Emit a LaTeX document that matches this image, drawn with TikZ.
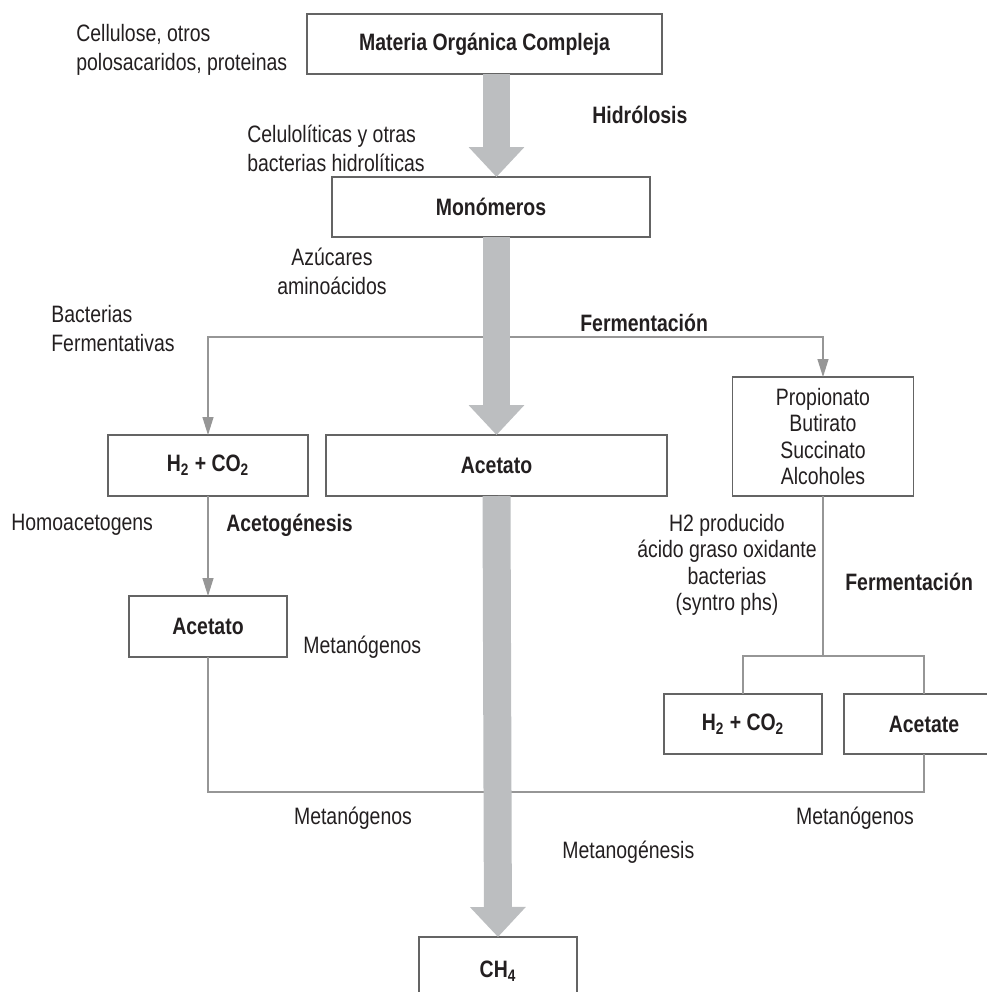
\documentclass[tikz,border=0pt]{standalone}
\usepackage{fontspec}
\setmainfont[FakeStretch=0.82]{Liberation Sans}
\usetikzlibrary{arrows.meta}
\definecolor{boxline}{RGB}{100,100,100}
\definecolor{thinline}{RGB}{150,150,150}
\definecolor{bigarrow}{RGB}{188,190,192}
\definecolor{txt}{RGB}{35,31,32}

\tikzset{
  caja/.style={draw=boxline, line width=0.8pt, text=txt, inner sep=0pt, outer sep=0pt,
    font=\bfseries\fontsize{13.5}{16.5}\selectfont},
  flecha/.style={draw=bigarrow, line width=0.56cm, -{Triangle[length=0.6cm,width=1.08cm]}},
  linea/.style={draw=thinline, line width=0.7pt},
  punta/.style={linea, -{Triangle[length=0.36cm,width=0.22cm]}},
  etiq/.style={text=txt, align=left, inner sep=0pt, font=\fontsize{13.5}{16.5}\selectfont},
}

\begin{document}
\begin{tikzpicture}[x=0.02cm, y=-0.02cm] % 1 unidad = 1 pixel
            \useasboundingbox (0,0) rectangle (987,992);

            % cajas
            \node[caja, minimum width=7.1cm, minimum height=1.2cm] (mat) at (484.5,44) {Materia Orgánica Compleja};
            \node[caja, minimum width=6.36cm, minimum height=1.2cm] (mono) at (491,207) {Monómeros};
            \node[caja, minimum width=4cm, minimum height=1.22cm] (h2l) at (208,465.5) {H\textsubscript{2} + CO\textsubscript{2}};
            \node[caja, minimum width=6.82cm, minimum height=1.22cm] (acetc) at (496.5,465.5) {Acetato};
            \node[caja, minimum width=3.62cm, minimum height=2.38cm, align=center,
                font=\fontsize{13.5}{15}\selectfont] (prop) at (823,436.5) {Propionato\\Butirato\\Succinato\\Alcoholes};
            \node[caja, minimum width=3.16cm, minimum height=1.22cm] (acetl) at (208,626.5) {Acetato};
            \node[caja, minimum width=3.16cm, minimum height=1.2cm] (h2r) at (743,724) {H\textsubscript{2} + CO\textsubscript{2}};
            \node[caja, minimum width=3.2cm, minimum height=1.2cm] (acetr) at (924,724) {Acetate};
            \node[caja, minimum width=3.16cm, minimum height=1.36cm] (ch4) at (498,971) {CH\textsubscript{4}};

            % lineas finas
            \coordinate (ferm) at (496.5,337);
            \coordinate (rama) at (823,656);
            \coordinate (junta) at (496.5,792);
            \draw[punta] (ferm) -| (h2l.north);
            \draw[punta] (ferm) -| (prop.north);
            \draw[punta] (h2l.south) -- (acetl.north);
            \draw[linea] (prop.south) -- (rama);
            \draw[linea] (h2r.north) |- (rama) -| (acetr.north);
            \draw[linea] (acetl.south) |- (junta);
            \draw[linea] (acetr.south) |- (junta);

            % flechas grandes
            \draw[flecha] (acetc |- mat.south) -- (acetc |- mono.north);
            \draw[flecha] (acetc |- mono.south) -- (acetc.north);
            \draw[flecha] (acetc.south) -- (ch4.north);

            % textos
            \node[etiq, anchor=west] (celulosa) at (76,50) {Cellulose, otros\\polosacaridos, proteinas};
            \node[etiq, anchor=west] (celulol) at (247,148) {Celulolíticas y otras\\bacterias hidrolíticas};
            \node[etiq, anchor=west, font=\bfseries\fontsize{13.5}{16.5}\selectfont] (hidro) at (592,115) {Hidrólosis};
            \node[etiq, align=center] (azucar) at (332,271) {Azúcares\\aminoácidos};
            \node[etiq, anchor=west] (bactf) at (51,329) {Bacterias\\Fermentativas};
            \node[etiq, anchor=west, font=\bfseries\fontsize{13.5}{16.5}\selectfont] (ferm1) at (580,323) {Fermentación};
            \node[etiq, anchor=west] (homo) at (11,525) {Homoacetogens};
            \node[etiq, anchor=west, font=\bfseries\fontsize{13.5}{16.5}\selectfont] (acetog) at (226,525) {Acetogénesis};
            \node[etiq, align=center, font=\fontsize{13.5}{15}\selectfont] (h2prod) at (727,565) {H2 producido\\ácido graso oxidante\\bacterias\\(syntro phs)};
            \node[etiq, anchor=west, font=\bfseries\fontsize{13.5}{16.5}\selectfont] (ferm2) at (845,582) {Fermentación};
            \node[etiq, anchor=west] (metan1) at (303,647) {Metanógenos};
            \node[etiq] (metan2) at (353,818) {Metanógenos};
            \node[etiq] (metan3) at (855,818) {Metanógenos};
            \node[etiq, anchor=west] (metanog) at (562,852) {Metanogénesis};
\end{tikzpicture}
\end{document}
